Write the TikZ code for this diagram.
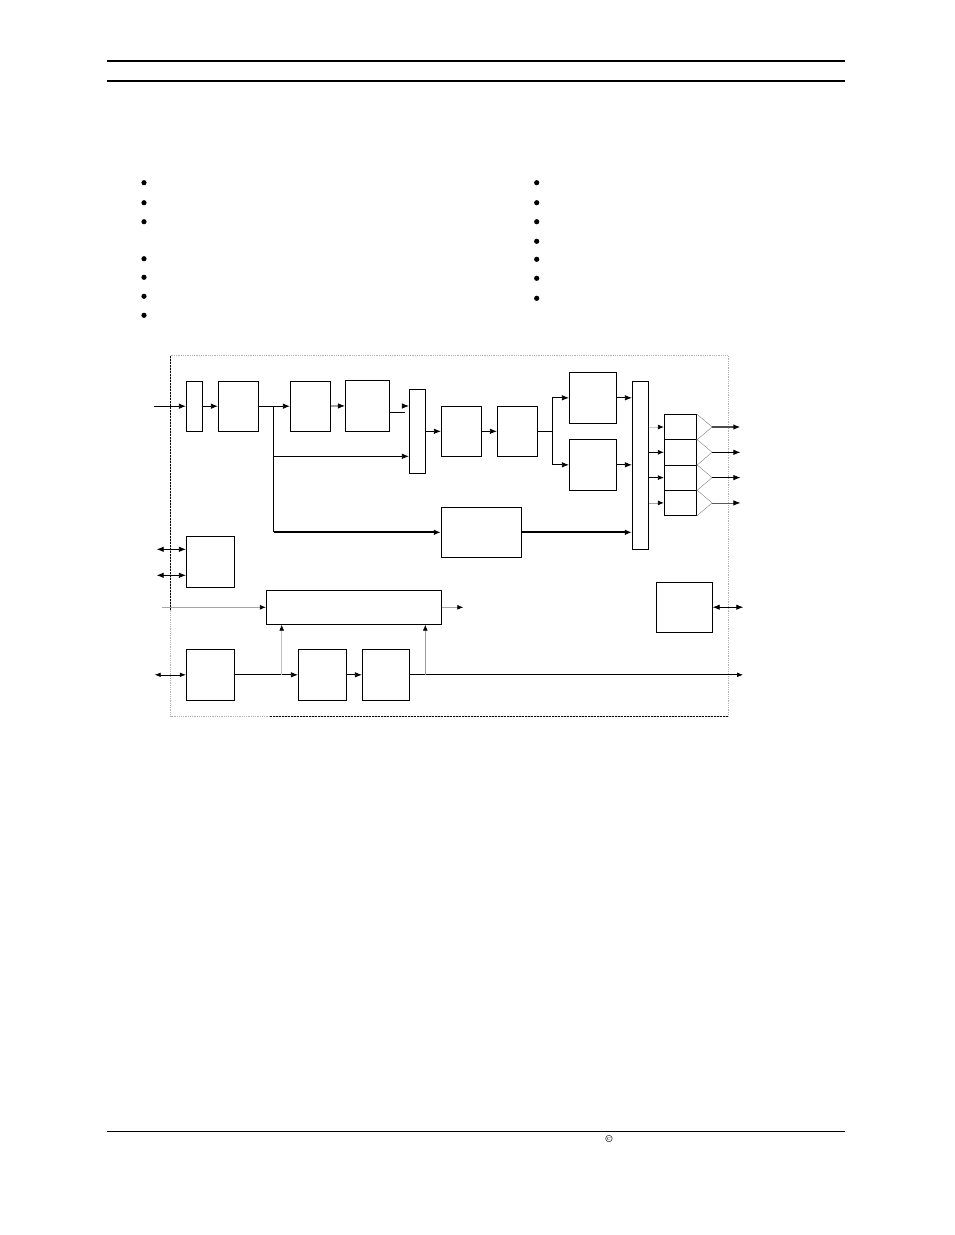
\documentclass[tikz,border=0pt]{standalone}
\usepackage{amsmath, amssymb}
\usepackage{tikz}
\usetikzlibrary{arrows.meta}

\begin{document}
\begin{tikzpicture}[x=1pt, y=-1pt,
    blk/.style={draw, line width=0.8pt, inner sep=0pt},
    arr/.style={-{Latex[length=7pt,width=5.5pt]}, line width=0.8pt},
    biarr/.style={{Latex[length=7pt,width=5.5pt]}-{Latex[length=7pt,width=5.5pt]}, line width=0.8pt}]
    \useasboundingbox (0,0) rectangle (954,1235);

    % Header and footer rules
    \draw[line width=1.1pt] (107,61) -- (845,61);
    \draw[line width=1.1pt] (107,81) -- (845,81);
    \draw[line width=0.9pt] (107,1131) -- (845,1131);
    \node[font=\bfseries] (copy) at (609,1139) {\textcopyright};

    % Bullets
    \foreach \y in {182.7, 202.7, 221.7, 258.7, 277.3, 296.3, 315.3}
        \fill (144,\y) circle (2.6pt);
    \foreach \y in {182.7, 202.7, 221.7, 241.3, 259.3, 278.3, 298.3}
        \fill (536.7,\y) circle (2.6pt);

    % Frame
    \draw[gray!60, densely dotted, line width=0.8pt] (170.7,355.7) rectangle (728.3,716.3);
    \draw[dashed, line width=0.6pt, dash pattern=on 2pt off 1pt] (170.7,355.7) -- (170.7,610);
    \draw[dashed, line width=0.6pt, dash pattern=on 2pt off 1pt] (270,716.3) -- (728.3,716.3);

    % Upper chain
    \node[blk, minimum width=16pt, minimum height=50pt] (inA) at (194.3,406.2) {};
    \node[blk, minimum width=40pt, minimum height=50pt] (encB) at (238.3,406.2) {};
    \node[blk, minimum width=40pt, minimum height=50pt] (procC) at (310.3,406.2) {};
    \node[blk, minimum width=44pt, minimum height=51pt] (procD) at (367.3,405.7) {};
    \node[blk, minimum width=16pt, minimum height=84pt] (muxE) at (417.3,431.3) {};
    \node[blk, minimum width=40pt, minimum height=50pt] (procG) at (461.3,431.3) {};
    \node[blk, minimum width=40pt, minimum height=50pt] (procH) at (517.3,431.3) {};
    \node[blk, minimum width=47pt, minimum height=51pt] (procI) at (592.8,397.8) {};
    \node[blk, minimum width=47pt, minimum height=51pt] (procJ) at (592.8,464.8) {};
    \node[blk, minimum width=16pt, minimum height=168pt] (muxK) at (640.3,465.3) {};
    \node[blk, minimum width=80pt, minimum height=50pt] (procF) at (481.3,532.3) {};
    \foreach \i/\y in {1/427, 2/452.3, 3/477.6, 4/502.9}
        \node[blk, minimum width=32pt, minimum height=25.3pt] (drv\i) at (680.3,\y) {};

    % Lower blocks
    \node[blk, minimum width=48pt, minimum height=51pt] (ctlM) at (210.3,561.7) {};
    \node[blk, minimum width=175pt, minimum height=34pt] (busN) at (353.8,607.3) {};
    \node[blk, minimum width=48pt, minimum height=51pt] (ioO) at (210.3,674.8) {};
    \node[blk, minimum width=48pt, minimum height=51pt] (procP) at (322.3,674.8) {};
    \node[blk, minimum width=47pt, minimum height=51pt] (procQ) at (385.8,674.8) {};
    \node[blk, minimum width=56pt, minimum height=50pt] (ioR) at (684.3,607.2) {};

    % Free ends and branch points
    \coordinate (in1) at (154,406.2);
    \coordinate (br1) at (273.7,406.2);
    \coordinate (br1b) at (273.7,532.3);
    \coordinate (br2) at (552.3,431.3);
    \coordinate (br3) at (281.7,674.8);
    \coordinate (br4) at (425.3,674.8);
    \coordinate (m1) at (156.7,549.3);
    \coordinate (m2) at (156.7,575.3);
    \coordinate (nin) at (162,607.3);
    \coordinate (nout) at (463.3,607.3);
    \coordinate (oin) at (154.7,674.8);
    \coordinate (qout) at (743,674.8);
    \coordinate (rout) at (743.3,607.2);

    % Upper connections
    \draw[arr] (in1) -- (inA);
    \draw[arr] (inA) -- (encB);
    \draw[arr] (encB) -- (procC);
    \draw[arr] (procC) -- (procD);
    \draw[line width=0.8pt] ([yshift=-6.3pt]procD.east) -- ++(15pt,0);
    \draw[arr] ([xshift=-7pt,yshift=25.3pt]muxE.west) -- ([yshift=25.3pt]muxE.west);
    \draw[arr] (br1) |- ([yshift=-25pt]muxE.west);
    \draw[line width=0.8pt] (br1) -- (br1b);
    \draw[arr, line width=2pt] (br1b) -- (procF.west);
    \draw[arr] (muxE) -- (procG);
    \draw[arr] (procG) -- (procH);
    \draw[line width=0.8pt] (procH) -- (br2);
    \draw[arr] (br2) |- (procI.west);
    \draw[arr] (br2) |- (procJ.west);
    \draw[arr] (procI.east) -- (procI.east -| muxK.west);
    \draw[arr] (procJ.east) -- (procJ.east -| muxK.west);
    \draw[arr, line width=2pt] (procF.east) -- (procF.east -| muxK.west);

    % Drivers
    \foreach \i/\c in {1/gray!40, 2/black, 3/black, 4/gray!70} {
        \coordinate (apex\i) at ([xshift=15.4pt]drv\i.east);
        \coordinate (out\i) at ([xshift=43.7pt]drv\i.east);
        \draw[arr, \c, -{Latex[length=6pt,width=5pt,black]}] (drv\i.west -| muxK.east) -- (drv\i.west);
        \draw[gray, line width=0.4pt] (drv\i.north east) -- (apex\i) -- (drv\i.south east);
    }
    \draw[arr, gray!60!black, line width=1.4pt, -{Latex[length=7pt,width=5.5pt,black]}] (apex1) -- (out1);
    \draw[arr] (apex2) -- (out2);
    \draw[arr] (apex3) -- (out3);
    \draw[arr, gray!70!black, -{Latex[length=7pt,width=5.5pt,black]}] (apex4) -- (out4);

    % Lower connections
    \draw[biarr] (m1) -- (m1 -| ctlM.west);
    \draw[biarr] (m2) -- (m2 -| ctlM.west);
    \draw[arr, gray!70, -{Latex[length=6pt,width=5pt, black]}] (nin) -- (busN.west);
    \draw[arr, gray!70, -{Latex[length=6pt,width=5pt, black]}] (busN.east) -- (nout);
    \draw[line width=0.6pt, {Latex[length=6pt,width=4.5pt]}-{Latex[length=6pt,width=4.5pt]}] (oin) -- (ioO.west);
    \draw[arr] (ioO) -- (procP);
    \draw[arr, gray!50, -{Latex[length=6pt,width=5pt, black]}] (br3) -- (br3 |- busN.south);
    \draw[arr] (procP) -- (procQ);
    \draw[arr, -{Latex[length=6pt,width=5pt]}] (procQ.east) -- (qout);
    \draw[arr, gray!80, -{Latex[length=6pt,width=5pt, black]}] (br4) -- (br4 |- busN.south);
    \draw[biarr] (ioR.east) -- (rout);
\end{tikzpicture}
\end{document}
